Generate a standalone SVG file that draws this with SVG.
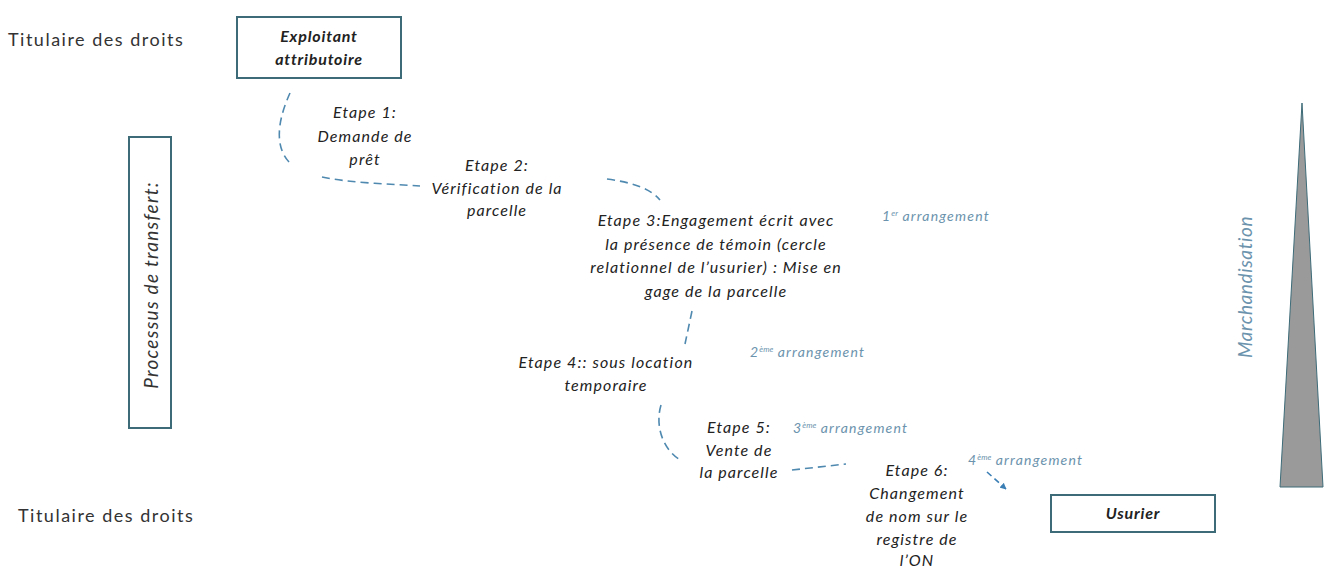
<svg xmlns="http://www.w3.org/2000/svg" width="1333" height="568" viewBox="0 0 1333 568">
<defs>
<style>
.lbl{font-family:Lato,"Open Sans",sans-serif;font-size:18px;fill:#333;letter-spacing:1.5px}
.box{fill:#fff;stroke:#3d6b78;stroke-width:2}
.bt{font-family:Lato,"Open Sans",sans-serif;font-size:16px;font-style:italic;font-weight:bold;fill:#222;text-anchor:middle;letter-spacing:0.8px}
.st{font-family:Lato,"Open Sans",sans-serif;font-size:16px;font-style:italic;fill:#222;text-anchor:middle;letter-spacing:1.1px}
.ar{font-family:Lato,"Open Sans",sans-serif;font-size:14px;font-style:italic;fill:#6b93ad;letter-spacing:1.2px}
.sup{font-size:8px;letter-spacing:0}
.cn{fill:none;stroke:#4f89b0;stroke-width:1.6;stroke-dasharray:8 5}
</style>
<marker id="ah" viewBox="0 0 10 10" refX="9" refY="5" markerWidth="4" markerHeight="4" orient="auto">
<path d="M0,0 L10,5 L0,10 z" fill="#3b7fb5"/>
</marker>
</defs>
<rect width="1333" height="568" fill="#fff"/>
<g id="titulaire-top"><text class="lbl" x="8" y="46">Titulaire des droits</text></g>
<g id="titulaire-bottom"><text class="lbl" x="18" y="522">Titulaire des droits</text></g>
<g id="exploitant">
<rect class="box" x="237" y="17" width="164" height="61"/>
<text class="bt" x="319" y="42">Exploitant</text>
<text class="bt" x="319" y="65">attributoire</text>
</g>
<g id="processus">
<rect class="box" x="129" y="137" width="42" height="291"/>
<text class="lbl" style="font-style:italic;font-size:19px;letter-spacing:1.3px" text-anchor="middle" transform="translate(158,285) rotate(-90)">Processus de transfert:</text>
</g>
<g id="etape1">
<text class="st" x="365" y="118">Etape 1:</text>
<text class="st" x="365" y="142">Demande de</text>
<text class="st" x="365" y="165">prêt</text>
</g>
<g id="etape2">
<text class="st" x="497" y="171">Etape 2:</text>
<text class="st" x="497" y="194">Vérification de la</text>
<text class="st" x="497" y="216">parcelle</text>
</g>
<g id="etape3">
<text class="st" x="716" y="226">Etape 3:Engagement écrit avec</text>
<text class="st" x="716" y="250">la présence de témoin (cercle</text>
<text class="st" x="716" y="273">relationnel de l’usurier) : Mise en</text>
<text class="st" x="716" y="297">gage de la parcelle</text>
</g>
<g id="etape4">
<text class="st" x="606" y="368">Etape 4:: sous location</text>
<text class="st" x="606" y="391">temporaire</text>
</g>
<g id="etape5">
<text class="st" x="739" y="433">Etape 5:</text>
<text class="st" x="739" y="456">Vente de</text>
<text class="st" x="739" y="478">la parcelle</text>
</g>
<g id="etape6">
<text class="st" x="917" y="476">Etape 6:</text>
<text class="st" x="917" y="499">Changement</text>
<text class="st" x="917" y="522">de nom sur le</text>
<text class="st" x="917" y="545">registre de</text>
<text class="st" x="917" y="566">l’ON</text>
</g>
<g id="arrangements">
<text class="ar" x="882" y="221">1<tspan class="sup" dy="-5">er</tspan><tspan dy="5"> arrangement</tspan></text>
<text class="ar" x="750" y="357">2<tspan class="sup" dy="-5">ème</tspan><tspan dy="5"> arrangement</tspan></text>
<text class="ar" x="793" y="433">3<tspan class="sup" dy="-5">ème</tspan><tspan dy="5"> arrangement</tspan></text>
<text class="ar" x="968" y="465">4<tspan class="sup" dy="-5">ème</tspan><tspan dy="5"> arrangement</tspan></text>
</g>
<g id="usurier">
<rect class="box" x="1051" y="495" width="164" height="37"/>
<text class="bt" x="1133" y="519">Usurier</text>
</g>
<g id="marchandisation">
<polygon points="1302,103 1323,487 1280,487" fill="#9a9a9a" stroke="#3d6b78" stroke-width="1"/>
<text class="ar" style="font-size:19px;letter-spacing:0.6px" text-anchor="middle" transform="translate(1252,287) rotate(-90)">Marchandisation</text>
</g>
<g id="connectors">
<path class="cn" d="M290,93 C280,115 272,145 290,163"/>
<path class="cn" d="M322,177 C350,183 390,184 420,186"/>
<path class="cn" d="M607,179 C630,182 650,188 660,200"/>
<path class="cn" d="M692,311 L685,344"/>
<path class="cn" d="M661,405 C655,425 662,450 682,461"/>
<path class="cn" d="M792,470 L846,464"/>
<path fill="none" stroke="#3b7fb5" stroke-width="1.6" stroke-dasharray="6 4" d="M987,472 L1006,489" marker-end="url(#ah)"/>
</g>
</svg>
